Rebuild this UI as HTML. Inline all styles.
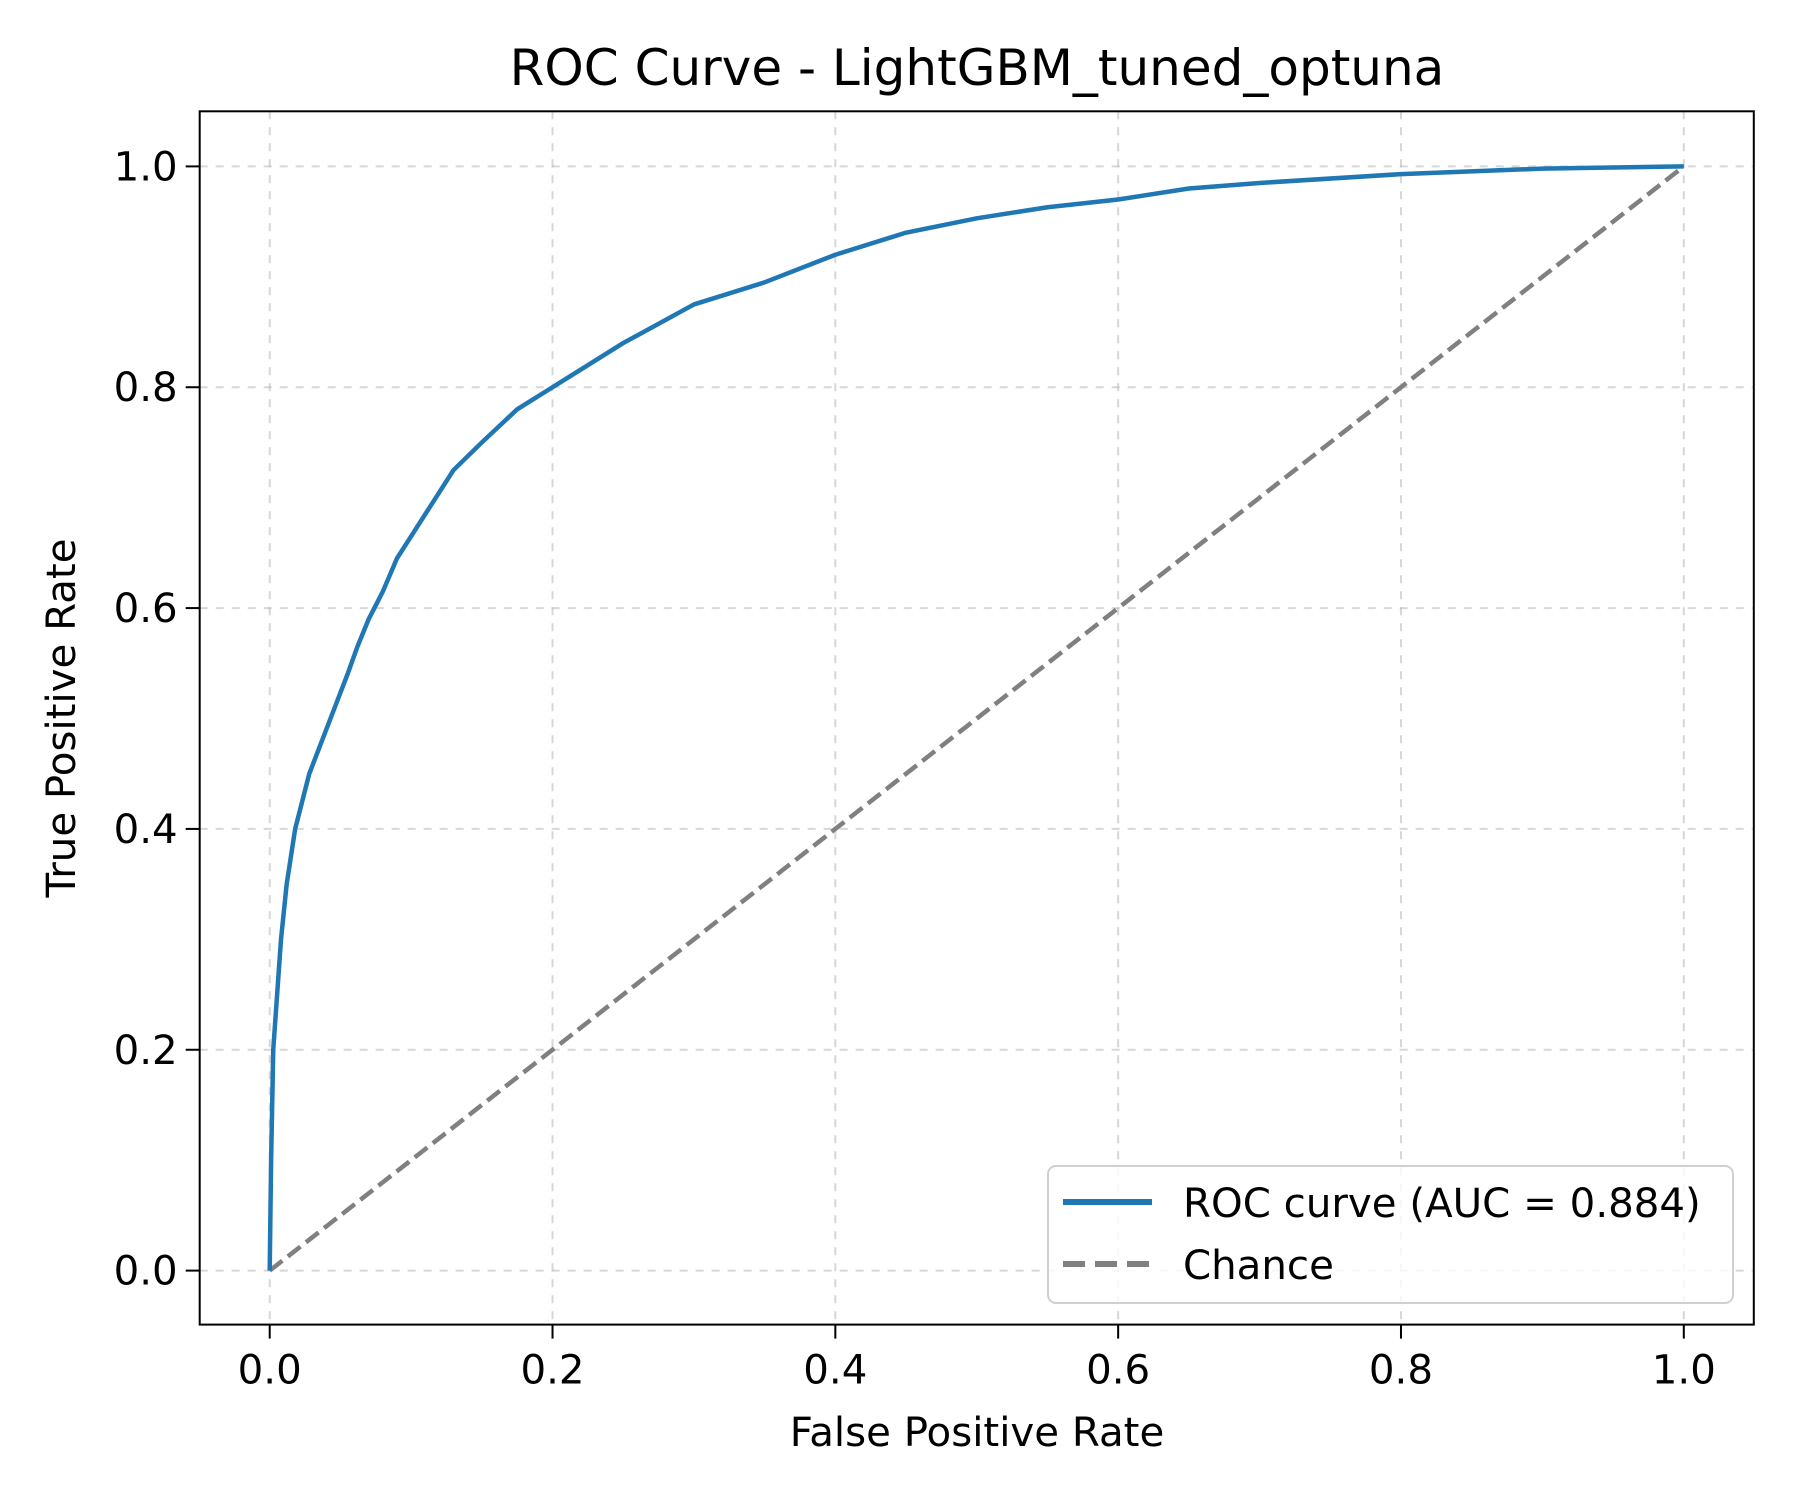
<!DOCTYPE html>
<html><head><meta charset="utf-8"><style>
html,body{margin:0;padding:0;background:#fff;}
svg{display:block;font-family:"DejaVu Sans","Liberation Sans",sans-serif;}
</style></head><body>
<svg id="chart" width="1800" height="1500" viewBox="0 0 1800 1500" xmlns="http://www.w3.org/2000/svg">
<rect width="1800" height="1500" fill="#fff"/>
<g id="grid"></g>
<g id="series"></g>
<rect x="199.7" y="111.3" width="1554.1" height="1213.3" fill="none" stroke="#000" stroke-width="2"/>
<g id="ticks"></g>
<text x="977" y="85" font-size="50" text-anchor="middle">ROC Curve - LightGBM_tuned_optuna</text>
<text x="977" y="1446" font-size="40.3" text-anchor="middle">False Positive Rate</text>
<text transform="translate(75,718) rotate(-90)" font-size="40.3" text-anchor="middle">True Positive Rate</text>
<g>
<rect x="1048" y="1166" width="685" height="137" rx="8" fill="#fff" fill-opacity="0.8" stroke="#d0d0d0" stroke-width="2"/>
<line x1="1063" y1="1202" x2="1152" y2="1202" stroke="#1f77b4" stroke-width="6"/>
<text x="1183" y="1217" font-size="40.3">ROC curve (AUC = 0.884)</text>
<line x1="1063" y1="1264" x2="1152" y2="1264" stroke="#808080" stroke-width="6" stroke-dasharray="22 10"/>
<text x="1183" y="1279" font-size="40.3">Chance</text>
</g>
</svg>
<script>
const fprValues=[0,0.001,0.0025,0.008,0.012,0.018,0.028,0.043,0.055,0.062,0.07,0.08,0.09,0.1,0.115,0.13,0.15,0.175,0.2,0.25,0.3,0.35,0.4,0.45,0.5,0.55,0.6,0.65,0.7,0.8,0.9,1];
const tprValues=[0,0.1,0.2,0.3,0.35,0.4,0.45,0.5,0.54,0.565,0.59,0.615,0.645,0.665,0.695,0.725,0.75,0.78,0.8,0.84,0.875,0.895,0.92,0.94,0.953,0.963,0.97,0.98,0.985,0.993,0.998,1];
const chanceX=[0,1];
const chanceY=[0,1];
const xTicks=[0,0.2,0.4,0.6,0.8,1.0];
const yTicks=[0,0.2,0.4,0.6,0.8,1.0];
const xTickLabels=["0.0","0.2","0.4","0.6","0.8","1.0"];
const yTickLabels=["0.0","0.2","0.4","0.6","0.8","1.0"];
const NS="http://www.w3.org/2000/svg";
const X0=269.7,X1=1683.8,Y0=1270.6,Y1=166.4,L=199.7,R=1753.8,T=111.3,B=1324.6;
const sx=v=>X0+v*(X1-X0), sy=v=>Y0-v*(Y0-Y1);
function mk(tag,attrs,parent){const e=document.createElementNS(NS,tag);for(const k in attrs)e.setAttribute(k,attrs[k]);parent.appendChild(e);return e;}
const grid=document.getElementById('grid'),ticks=document.getElementById('ticks'),series=document.getElementById('series');
xTicks.forEach((t,i)=>{
 const g=mk('line',{x1:sx(t),x2:sx(t),y1:T,y2:B,stroke:'#b0b0b0','stroke-opacity':0.5,'stroke-width':2,'stroke-dasharray':'8 8'},grid);
 
 
 const tk=mk('line',{x1:sx(t),x2:sx(t),y1:B,y2:B+14,stroke:'#000','stroke-width':2},ticks);
 
 
 const tx=mk('text',{x:sx(t),y:B+59,'font-size':40.3,'text-anchor':'middle'},ticks);
 tx.textContent=xTickLabels[i];
 
 
});
yTicks.forEach((t,i)=>{
 const g=mk('line',{x1:L,x2:R,y1:sy(t),y2:sy(t),stroke:'#b0b0b0','stroke-opacity':0.5,'stroke-width':2,'stroke-dasharray':'8 8'},grid);
 
 
 const tk=mk('line',{x1:L-14,x2:L,y1:sy(t),y2:sy(t),stroke:'#000','stroke-width':2},ticks);
 
 
 const tx=mk('text',{x:L-22,y:sy(t)+14,'font-size':40.3,'text-anchor':'end'},ticks);
 tx.textContent=yTickLabels[i];
 
 
});
const ch=mk('polyline',{points:chanceX.map((v,i)=>sx(v)+','+sy(chanceY[i])).join(' '),fill:'none',stroke:'#808080','stroke-width':4.5,'stroke-dasharray':'16 7'},series);


const roc=mk('polyline',{points:fprValues.map((v,i)=>sx(v)+','+sy(tprValues[i])).join(' '),fill:'none',stroke:'#1f77b4','stroke-width':4.5,'stroke-linejoin':'round'},series);


</script>
</body></html>
